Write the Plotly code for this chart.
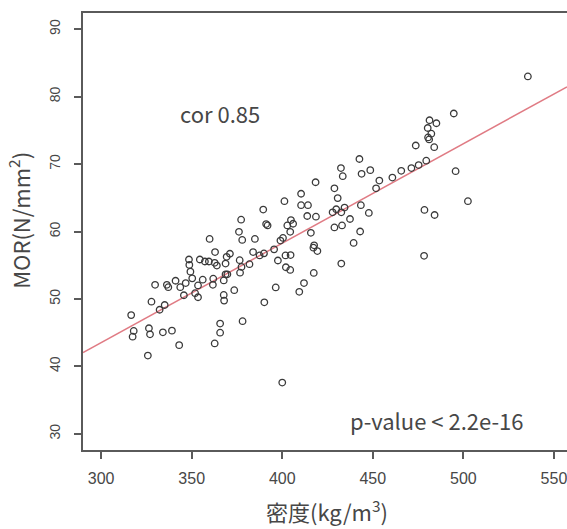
import numpy as np
import plotly.graph_objects as go

# Wood density (kg/m3) and modulus of rupture (N/mm2) for each specimen
density = [
    316.6, 318.0, 317.4, 325.8, 326.4, 327.0, 327.8, 329.8, 332.3, 334.1,
    335.1, 336.3, 337.1, 339.1, 341.1, 343.1, 343.7, 345.7, 346.7, 348.5,
    348.7, 349.3, 350.3, 351.9, 353.5, 353.5, 354.5, 356.1, 357.3, 359.5,
    359.9, 361.7, 361.9, 362.7, 362.9, 362.7, 363.9, 365.7, 365.7, 367.7,
    367.7, 367.9, 368.7, 368.7, 369.3, 369.7, 371.1, 373.5, 376.1, 376.5,
    376.7, 377.3, 377.5, 377.9, 378.1, 381.9, 383.9, 384.9, 387.5, 389.5,
    389.9, 390.1, 391.1, 391.9, 395.5, 396.4, 397.6, 399.0, 400.0, 400.4,
    401.2, 401.8, 402.0, 402.8, 404.4, 404.4, 404.8, 404.6, 406.0, 409.4,
    410.4, 410.4, 412.0, 413.8, 414.2, 415.8, 417.2, 417.4, 417.6, 418.4,
    418.6, 419.4, 427.8, 428.8, 428.8, 429.8, 430.6, 432.4, 432.6, 432.6,
    433.0, 433.4, 434.4, 437.4, 439.4, 442.6, 443.0, 443.4, 443.8, 447.8,
    448.6, 451.8, 453.6, 460.8, 465.7, 471.3, 473.7, 475.3, 478.3, 478.5,
    479.5, 480.3, 480.5, 481.1, 481.3, 482.3, 483.9, 484.1, 485.1, 494.7,
    495.7, 502.5, 535.6,
]
mor = [
    47.6, 45.25, 44.4, 41.6, 45.65, 44.75, 49.6, 52.1, 48.4, 45.05,
    49.1, 52.1, 51.75, 45.3, 52.7, 43.15, 51.75, 50.55, 52.35, 55.85,
    55.05, 54.05, 53.05, 50.85, 50.25, 52.0, 55.85, 52.85, 55.55, 55.55,
    58.9, 52.1, 53.0, 43.4, 56.95, 55.35, 54.95, 46.35, 45.0, 52.75,
    50.6, 49.75, 53.65, 55.25, 56.25, 53.65, 56.7, 51.3, 59.95, 55.75,
    53.9, 61.75, 54.75, 58.75, 46.7, 55.15, 56.95, 58.9, 56.45, 63.25,
    56.75, 49.5, 61.1, 60.9, 57.35, 51.7, 55.7, 58.65, 37.6, 59.05,
    64.5, 56.45, 54.7, 60.9, 54.3, 59.95, 61.7, 56.5, 61.15, 51.05,
    65.6, 63.9, 52.35, 62.3, 63.9, 59.8, 57.6, 53.85, 57.95, 67.3,
    62.2, 57.1, 62.85, 66.4, 60.6, 63.3, 64.95, 69.4, 62.85, 55.25,
    60.9, 68.2, 63.55, 61.85, 58.3, 70.75, 60.0, 63.9, 68.55, 62.75,
    69.1, 66.4, 67.55, 68.0, 69.0, 69.4, 72.75, 69.85, 56.4, 63.2,
    70.5, 75.35, 73.95, 73.65, 76.5, 74.5, 72.5, 62.45, 76.05, 77.5,
    68.95, 64.5, 83.0,
]

x_ticks = [300, 350, 400, 450, 500, 550]
y_ticks = [30, 40, 50, 60, 70, 80, 90]
x_range = [290, 557.2]
y_range = [27.6, 92.4]

cor_label = "cor 0.85"
p_label = "p-value < 2.2e-16"

# least-squares line through the specimens
slope, intercept = np.polyfit(density, mor, 1)
fit_x = np.array(x_range)
fit_y = intercept + slope * fit_x

frame = "#5a5a5a"
text_col = "#474747"
cjk = "Noto Sans CJK JP"

fig = go.Figure()
fig.add_trace(go.Scatter(
    x=fit_x, y=fit_y, mode="lines",
    line=dict(color="#e07b84", width=1.5),
    hoverinfo="skip", showlegend=False,
))
fig.add_trace(go.Scatter(
    x=density, y=mor, mode="markers",
    marker=dict(symbol="circle-open", size=6.5,
                line=dict(color="#3a3a3a", width=1.3), color="#3a3a3a"),
    showlegend=False,
))

fig.add_annotation(x=365.8, y=77.55, text=cor_label, showarrow=False,
                   xanchor="center", yanchor="middle",
                   font=dict(family=cjk, size=22, color=text_col))
fig.add_annotation(x=485.5, y=32.04, text=p_label, showarrow=False,
                   xanchor="center", yanchor="middle",
                   font=dict(family=cjk, size=22, color=text_col))

fig.add_annotation(xref="paper", yref="paper", x=0.5045, y=-0.138,
                   xanchor="center", yanchor="middle",
                   text="密度(kg/m<sup>3</sup>)", showarrow=False,
                   font=dict(family=cjk, size=22, color=text_col))
fig.add_annotation(xref="paper", yref="paper", x=-0.133, y=0.526,
                   xanchor="center", yanchor="middle",
                   text="MOR(N/mm<sup>2</sup>)", showarrow=False, textangle=-90,
                   font=dict(family=cjk, size=22, color=text_col))

fig.update_layout(
    width=567, height=529,
    margin=dict(l=82.7, r=0, t=12.7, b=79, pad=0),
    paper_bgcolor="white", plot_bgcolor="white",
    xaxis=dict(
        range=x_range, tickvals=x_ticks, ticks="outside", ticklen=7,
        tickwidth=1.5, tickcolor=frame, showline=True, linecolor=frame,
        linewidth=1.8, mirror=True, showgrid=False, zeroline=False,
        ticklabelstandoff=6, ticklabeloverflow="allow",
        tickfont=dict(family="Liberation Sans", size=16, color=text_col),
    ),
    yaxis=dict(
        range=y_range, tickvals=y_ticks, ticks="outside", ticklen=7,
        tickwidth=1.5, tickcolor=frame, showline=True, linecolor=frame,
        linewidth=1.8, mirror=False, showgrid=False, zeroline=False,
        tickangle=-90, ticklabelstandoff=9,
        tickfont=dict(family="Liberation Sans", size=14, color=text_col),
    ),
)

fig.write_html("out.html")
